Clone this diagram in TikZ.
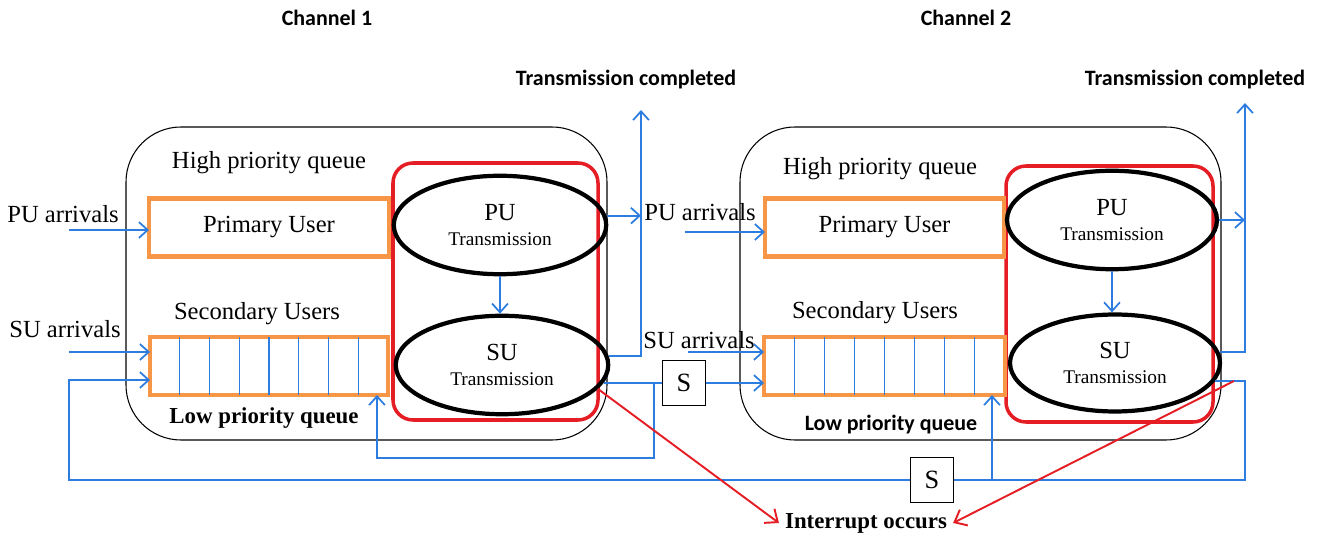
\documentclass[tikz,border=0pt]{standalone}
\usepackage{fontspec}
\setmainfont{Liberation Serif}
\newfontfamily\calib{Carlito}
\usepackage{tikz}
\usetikzlibrary{arrows.meta, positioning, shapes.geometric}

\definecolor{bleu}{RGB}{45,125,225}
\definecolor{orangeq}{RGB}{247,150,70}
\definecolor{rouge}{RGB}{228,30,36}

\begin{document}
\begin{tikzpicture}[
                x=0.02cm, y=-0.02cm,
                every node/.style={font=\fontsize{14}{16}\selectfont},
                queuebox/.style={draw=orangeq, line width=2.8pt, rectangle, minimum height=1.16cm, inner sep=0pt, outer sep=0pt},
                server/.style={draw, ellipse, line width=2.4pt, inner sep=0pt, align=center, minimum width=4.25cm, minimum height=1.97cm},
                zone/.style={draw=rouge, line width=2pt, rounded corners=0.4cm},
                chanbox/.style={draw, line width=0.6pt, rounded corners=1.1cm},
                link/.style={draw=bleu, line width=1pt},
                flow/.style={link, -{Straight Barb[length=5pt,width=9pt]}},
                interrupt/.style={draw=rouge, line width=1.1pt, -{Straight Barb[length=6pt,width=10pt]}},
                sbox/.style={draw, line width=0.6pt, minimum width=0.86cm, minimum height=0.9cm, inner sep=0pt, font=\fontsize{15}{17}\selectfont},
                heading/.style={font=\calib\bfseries\fontsize{12.5}{14}\selectfont}
            ]
            \useasboundingbox (0,0) rectangle (1322,536);

            % Canal 1
            \draw[chanbox] (126,127) rectangle (607,440);
            \draw[zone] (393,163) rectangle (598,420);
            \node[heading] (ch1) at (327,18) {Channel 1};
            \node[heading] (tc1) at (626,80) {Transmission completed};
            \node (hpq1) at (269,163) {High priority queue};
            \node (sec1) at (257,314) {Secondary Users};
            \node[font=\bfseries\fontsize{13}{15}\selectfont] (lpq1) at (264,418) {Low priority queue};
            \node (pua1t) at (63,214) {PU arrivals};
            \node (sua1t) at (65,329) {SU arrivals};
            \node[queuebox, minimum width=4.8cm] (pu1) at (269,227.5) {Primary User};
            \node[queuebox, minimum width=4.76cm] (suq1) at (269,366) {};
            \node[server] (put1) at (500,225) {PU\\[-2pt]{\fontsize{11}{12}\selectfont Transmission}};
            \node[server] (sut1) at (502,365) {SU\\[-2pt]{\fontsize{11}{12}\selectfont Transmission}};

            % Canal 2
            \draw[chanbox] (740,127) rectangle (1221,440);
            \draw[zone] (1006,166) rectangle (1213,422);
            \node[heading] (ch2) at (966,18) {Channel 2};
            \node[heading] (tc2) at (1195,80) {Transmission completed};
            \node (hpq2) at (880,169) {High priority queue};
            \node (sec2) at (875,313) {Secondary Users};
            \node[heading] (lpq2) at (891,425) {Low priority queue};
            \node (pua2t) at (700,212) {PU arrivals};
            \node (sua2t) at (699,340) {SU arrivals};
            \node[queuebox, minimum width=4.78cm] (pu2) at (884.5,227.5) {Primary User};
            \node[queuebox, minimum width=4.82cm] (suq2) at (884.5,366) {};
            \node[server, minimum width=4.2cm] (put2) at (1112,220) {PU\\[-2pt]{\fontsize{11}{12}\selectfont Transmission}};
            \node[server, minimum width=4.2cm, minimum height=1.94cm] (sut2) at (1115,363) {SU\\[-2pt]{\fontsize{11}{12}\selectfont Transmission}};

            % Cases des files basse priorite
            \foreach \q/\w in {suq1/0.595, suq2/0.6025}
                \foreach \i in {1,...,7}
                    \draw[link, line width=0.6pt] ([xshift=\i*\w cm]\q.north west) -- ([xshift=\i*\w cm]\q.south west);

            % Points libres
            \coordinate (pua1) at (69,230);
            \coordinate (sua1) at (69,352);
            \coordinate (fb1) at (69,380);
            \coordinate (done1) at (641,110);
            \coordinate (loop1) at (654,458);
            \coordinate (pua2) at (685,232);
            \coordinate (sua2) at (688,352);
            \coordinate (done2) at (1245,103);
            \coordinate (loop2) at (1245,480);
            \coordinate (branch2) at (992,480);
            \coordinate (int2) at (1234,381);

            \node[sbox] (s1) at (684,383) {S};
            \node[sbox] (s2) at (932,480) {S};

            % Liens du canal 1
            \draw[flow] (pua1) -- (pua1 -| pu1.west);
            \draw[flow] (sua1) -- (sua1 -| suq1.west);
            \draw[flow] (put1.south) -- (put1.south |- sut1.north);
            \draw[flow] (put1.5) -- (put1.5 -| done1);
            \draw[flow] (sut1.5) -| (done1);
            \draw[flow] (sut1.-10) -| (loop1) -| ([xshift=-0.22cm]suq1.south east);
            \draw[link] (sut1.-10) -- (sut1.-10 -| s1.west);
            \draw[flow] (s1.east) -- (s1.east -| suq2.west);

            % Liens du canal 2
            \draw[flow] (pua2) -- (pua2 -| pu2.west);
            \draw[flow] (sua2) -- (sua2 -| suq2.west);
            \draw[flow] (put2.south) -- (put2.south |- sut2.north);
            \draw[flow] (put2.east) -- (put2.east -| done2);
            \draw[flow] (sut2.6) -| (done2);
            \draw[link] (sut2.-10) -| (loop2) -- (s2.east);
            \draw[flow] (s2.west) -| (fb1) -- (fb1 -| suq1.west);
            \draw[flow] (branch2) -- (branch2 |- suq2.south);

            % Interruptions
            \node[font=\bfseries\fontsize{13}{15}\selectfont] (intr) at (866,523) {Interrupt occurs};
            \draw[interrupt] (sut1.-14) -- (intr.west);
            \draw[interrupt] (int2) -- (intr.east);
        \end{tikzpicture}
\end{document}
